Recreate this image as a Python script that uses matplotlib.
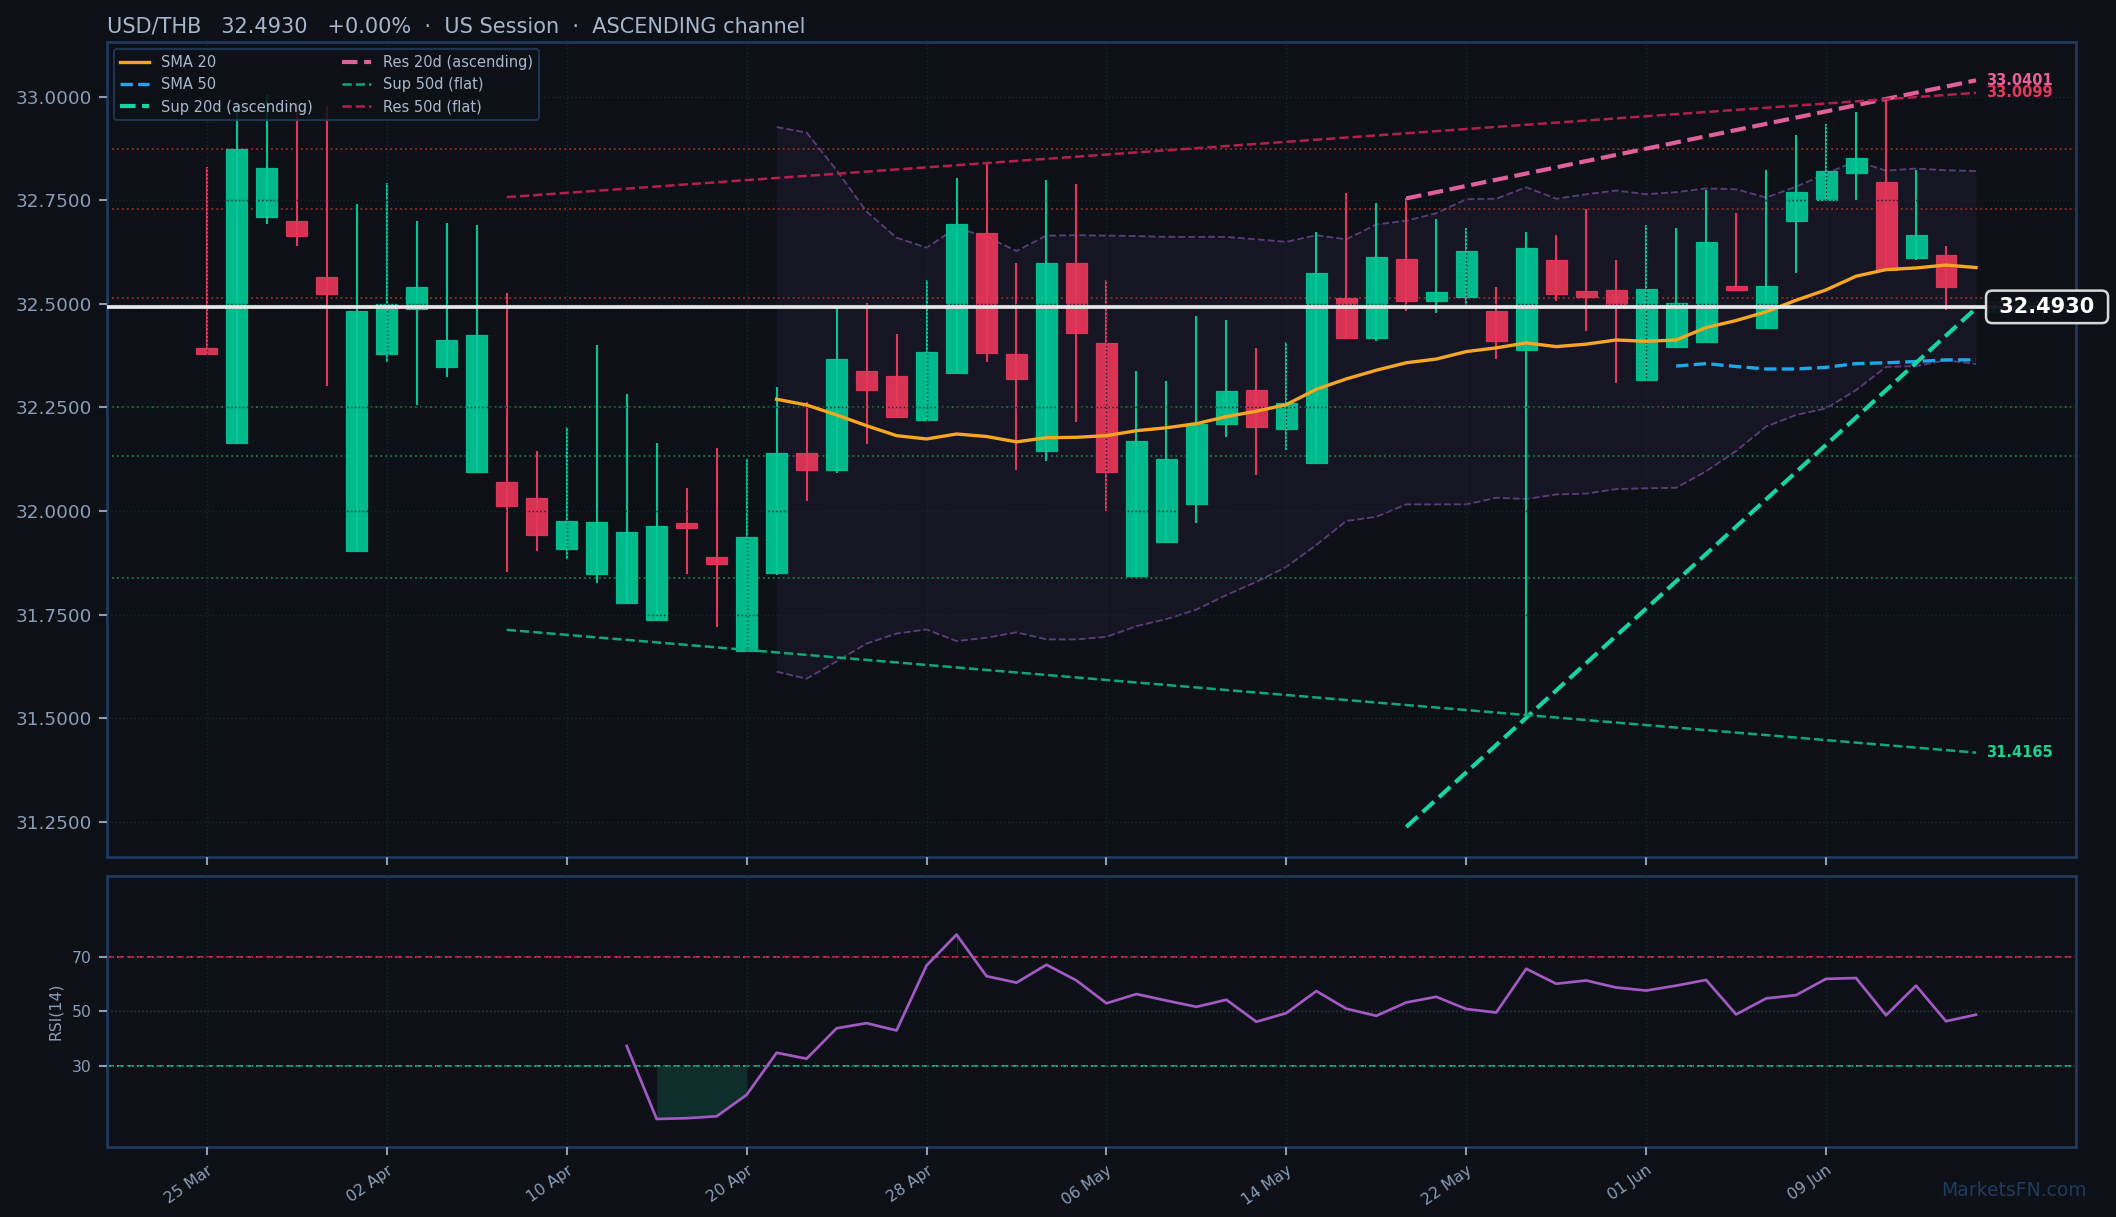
import numpy as np
import matplotlib
matplotlib.use("Agg")
import matplotlib.pyplot as plt
from matplotlib.ticker import FormatStrFormatter

# ---- values ----
pair = "USD/THB"
last_price = 32.4930
change_pct = 0.00
session = "US Session"
channel = "ASCENDING channel"

tick_labels = ["25 Mar", "02 Apr", "10 Apr", "20 Apr", "28 Apr",
               "06 May", "14 May", "22 May", "01 Jun", "09 Jun"]
tick_step = 6

opens = [32.394, 32.165, 32.709, 32.701, 32.566, 31.903, 32.378, 32.489, 32.347, 32.094,
         32.071, 32.032, 31.909, 31.849, 31.777, 31.736, 31.971, 31.889, 31.663, 31.851,
         32.140, 32.100, 32.338, 32.326, 32.221, 32.333, 32.672, 32.379, 32.145, 32.599,
         32.406, 31.842, 31.924, 32.018, 32.209, 32.292, 32.198, 32.116, 32.514, 32.417,
         32.608, 32.508, 32.516, 32.483, 32.388, 32.606, 32.531, 32.534, 32.316, 32.396,
         32.408, 32.543, 32.442, 32.700, 32.752, 32.816, 32.795, 32.610, 32.619, 32.493]
highs = [32.831, 32.988, 33.005, 32.986, 32.979, 32.741, 32.793, 32.701, 32.696, 32.691,
         32.527, 32.145, 32.203, 32.401, 32.283, 32.165, 32.056, 32.153, 32.126, 32.300,
         32.264, 32.496, 32.503, 32.428, 32.558, 32.805, 32.842, 32.599, 32.799, 32.790,
         32.558, 32.339, 32.314, 32.471, 32.462, 32.393, 32.409, 32.674, 32.769, 32.744,
         32.755, 32.706, 32.684, 32.542, 32.674, 32.667, 32.730, 32.606, 32.691, 32.684,
         32.775, 32.720, 32.824, 32.908, 32.935, 32.964, 32.994, 32.824, 32.641, 32.493]
lows = [32.378, 32.165, 32.694, 32.641, 32.301, 31.903, 32.361, 32.256, 32.324, 32.094,
        31.852, 31.903, 31.885, 31.827, 31.777, 31.736, 31.849, 31.719, 31.663, 31.846,
        32.025, 32.093, 32.161, 32.228, 32.221, 32.333, 32.359, 32.098, 32.120, 32.214,
        31.999, 31.842, 31.924, 31.972, 32.178, 32.088, 32.147, 32.116, 32.417, 32.410,
        32.482, 32.478, 32.491, 32.368, 31.508, 32.507, 32.435, 32.308, 32.316, 32.396,
        32.408, 32.533, 32.442, 32.576, 32.750, 32.752, 32.582, 32.605, 32.485, 32.493]
closes = [32.378, 32.874, 32.828, 32.665, 32.523, 32.484, 32.500, 32.542, 32.414, 32.425,
          32.013, 31.941, 31.976, 31.973, 31.949, 31.964, 31.960, 31.871, 31.937, 32.140,
          32.100, 32.367, 32.293, 32.228, 32.385, 32.693, 32.381, 32.319, 32.599, 32.431,
          32.094, 32.169, 32.125, 32.211, 32.290, 32.203, 32.261, 32.575, 32.417, 32.613,
          32.506, 32.529, 32.628, 32.410, 32.635, 32.525, 32.518, 32.496, 32.536, 32.502,
          32.650, 32.533, 32.543, 32.770, 32.821, 32.853, 32.582, 32.667, 32.540, 32.493]

sma20_start = 19
sma20 = [32.270, 32.256, 32.232, 32.206, 32.182, 32.174, 32.186, 32.180, 32.167, 32.177,
         32.178, 32.182, 32.194, 32.201, 32.211, 32.228, 32.241, 32.257, 32.294, 32.319,
         32.340, 32.358, 32.367, 32.385, 32.394, 32.406, 32.397, 32.403, 32.413, 32.410,
         32.413, 32.443, 32.460, 32.481, 32.509, 32.534, 32.567, 32.583, 32.587, 32.594,
         32.588]
sma50_start = 49
sma50 = [32.350, 32.356, 32.349, 32.343, 32.343, 32.347, 32.356, 32.358, 32.361, 32.365, 32.365]

bb_upper = [32.927, 32.914, 32.823, 32.723, 32.660, 32.636, 32.684, 32.662, 32.628, 32.665,
            32.666, 32.665, 32.664, 32.662, 32.662, 32.662, 32.656, 32.650, 32.666, 32.656,
            32.692, 32.701, 32.719, 32.753, 32.754, 32.782, 32.754, 32.765, 32.774, 32.765,
            32.770, 32.779, 32.777, 32.757, 32.783, 32.815, 32.845, 32.822, 32.827, 32.823,
            32.821]
bb_lower = [31.612, 31.595, 31.637, 31.680, 31.704, 31.714, 31.686, 31.694, 31.707, 31.690,
            31.690, 31.696, 31.722, 31.739, 31.762, 31.797, 31.829, 31.865, 31.918, 31.976,
            31.986, 32.016, 32.016, 32.016, 32.032, 32.029, 32.040, 32.042, 32.053, 32.055,
            32.056, 32.096, 32.145, 32.204, 32.232, 32.248, 32.292, 32.348, 32.350, 32.364,
            32.355]

rsi_start = 14
rsi = [37.3, 10.4, 10.7, 11.4, 19.3, 34.8, 32.6, 43.8, 45.7, 43.0,
       66.9, 78.3, 63.0, 60.6, 67.2, 61.4, 53.0, 56.4, 54.0, 51.7,
       54.3, 46.2, 49.4, 57.5, 51.0, 48.4, 53.3, 55.4, 50.9, 49.6,
       65.7, 60.2, 61.4, 58.8, 57.7, 59.5, 61.6, 48.9, 54.8, 56.0,
       62.0, 62.3, 48.6, 59.5, 46.4, 48.8]

res_levels = [32.874, 32.729, 32.514]
sup_levels = [32.251, 32.133, 31.838]

trend_names = ["Sup 20d (ascending)", "Res 20d (ascending)", "Sup 50d (flat)", "Res 50d (flat)"]
trend_start_idx = [40, 40, 10, 10]
trend_end_idx = [59, 59, 59, 59]
trend_start_val = [31.237, 32.755, 31.713, 32.758]
trend_end_val = [32.4895, 33.0401, 31.4165, 33.0099]
trend_colors = ["#19d3a2", "#e0609a", "#10a878", "#b3204f"]
trend_widths = [2.0, 2.0, 1.2, 1.2]
trend_label_colors = ["#19d3a2", "#ec5f9a", "#19d38f", "#e8365a"]

# ---- style ----
BG = "#0d1117"
SPINE = "#1f3a5f"
TXT = "#8b9db6"
UP = "#00c896"
DOWN = "#e8365a"

fig = plt.figure(figsize=(2116 / 150, 1217 / 150), dpi=150, facecolor=BG)
ax = fig.add_axes([0.0506, 0.296, 0.9307, 0.6696])
ax_rsi = fig.add_axes([0.0506, 0.0573, 0.9307, 0.2232], sharex=ax)

for a in (ax, ax_rsi):
    a.set_facecolor(BG)
    for s in a.spines.values():
        s.set_color(SPINE)
        s.set_linewidth(1.3)
    a.grid(True, color="#1c2330", linestyle=":", linewidth=0.7)
    a.set_axisbelow(False)
    a.tick_params(colors=TXT, length=4, width=1)

n = len(closes)
x = np.arange(n)
o = np.array(opens)
h = np.array(highs)
l = np.array(lows)
c = np.array(closes)
colors = [UP if cc >= oo else DOWN for oo, cc in zip(o, c)]

# bollinger band
xb = np.arange(sma20_start, sma20_start + len(bb_upper))
ax.fill_between(xb, bb_lower, bb_upper, color="#2a1f40", alpha=0.3, lw=0, zorder=1)
ax.plot(xb, bb_upper, color="#5a3c78", lw=0.9, ls="--", zorder=1.5)
ax.plot(xb, bb_lower, color="#5a3c78", lw=0.9, ls="--", zorder=1.5)

# levels
for v in res_levels:
    ax.axhline(v, color="#c0392b", ls=":", lw=0.9, alpha=0.7, zorder=1.6)
for v in sup_levels:
    ax.axhline(v, color="#1f9d55", ls=":", lw=0.9, alpha=0.7, zorder=1.6)

# candles
ax.vlines(x, l, h, colors=colors, linewidth=1.0, zorder=2)
ax.bar(x, np.abs(c - o), bottom=np.minimum(o, c), width=0.7, color=colors,
       edgecolor=colors, linewidth=0.6, alpha=0.92, zorder=2)

# moving averages
ax.plot(np.arange(sma20_start, sma20_start + len(sma20)), sma20,
        color="#f5a623", lw=1.6, zorder=3, label="SMA 20")
ax.plot(np.arange(sma50_start, sma50_start + len(sma50)), sma50,
        color="#1fa8e8", lw=1.6, ls="--", zorder=3, label="SMA 50")

# trend channel lines
for name, i0, i1, v0, v1, col, lw, lc in zip(trend_names, trend_start_idx, trend_end_idx,
                                           trend_start_val, trend_end_val, trend_colors,
                                           trend_widths, trend_label_colors):
    ax.plot([i0, i1], [v0, v1], color=col, lw=lw, ls="--", zorder=3, label=name)
    ax.text(i1 + 0.35, v1, f"{v1:.4f}", color=lc, fontsize=7, fontweight="bold",
            va="center", ha="left", zorder=3, clip_on=False)

# current price
ax.axhline(last_price, color="#e6e6e6", lw=1.8, zorder=4)
ax.text(61.37, last_price, f" {last_price:.4f} ", ha="center", va="center", fontsize=10,
        fontweight="bold", color="white", zorder=10, clip_on=False,
        bbox=dict(boxstyle="round,pad=0.3", fc=BG, ec="#e6e6e6", lw=1.2, alpha=0.94))

ax.set_xlim(-3.33, 62.35)
ax.set_ylim(31.165, 33.133)
ax.set_yticks(np.arange(31.25, 33.01, 0.25))
ax.yaxis.set_major_formatter(FormatStrFormatter("%.4f"))
ax.tick_params(axis="y", labelsize=8.8)
ax.tick_params(labelbottom=False)

title = f"{pair}   {last_price:.4f}   {change_pct:+.2f}%  \u00b7  {session}  \u00b7  {channel}"
ax.text(0, 1.012, title, transform=ax.transAxes, fontsize=10, color="#a6b6ca",
        ha="left", va="baseline")

leg = ax.legend(loc="upper left", ncol=2, fontsize=7, facecolor=BG, edgecolor=SPINE,
                labelcolor="#a9b8cc", framealpha=0.85)
leg.get_frame().set_linewidth(1.0)

# RSI panel
xr = np.arange(rsi_start, rsi_start + len(rsi))
r = np.array(rsi)
ax_rsi.axhline(70, color="#d12f4a", ls="--", lw=0.9)
ax_rsi.axhline(30, color="#13b88a", ls="--", lw=0.9)
ax_rsi.axhline(50, color="#555b66", ls=":", lw=0.7)
ax_rsi.fill_between(xr, r, 30, where=r < 30, color="#12a37a", alpha=0.2, lw=0)
ax_rsi.fill_between(xr, r, 70, where=r > 70, color="#d12f4a", alpha=0.25, lw=0.5)
ax_rsi.plot(xr, r, color="#a259c4", lw=1.3, zorder=3)
ax_rsi.set_ylim(0, 100)
ax_rsi.set_yticks([30, 50, 70])
ax_rsi.tick_params(axis="y", labelsize=7.5)
ax_rsi.set_ylabel("RSI(14)", color=TXT, fontsize=7.5)

ax_rsi.set_xticks(x[::tick_step][:len(tick_labels)])
ax_rsi.set_xticklabels(tick_labels, rotation=35, ha="right", rotation_mode="anchor", fontsize=7.5)

fig.text(0.986, 0.022, "MarketsFN.com", ha="right", va="center", fontsize=9, color="#1f3a5f")

fig.savefig("out.png", dpi=150, facecolor=BG)
